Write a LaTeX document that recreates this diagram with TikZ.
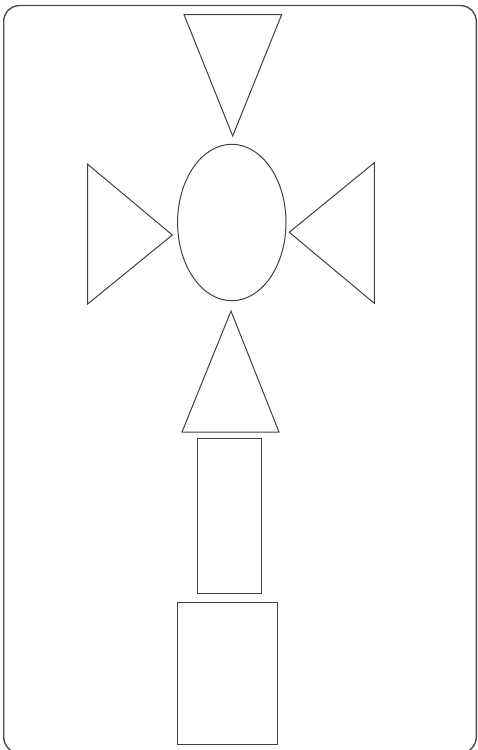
\documentclass[tikz,border=0pt]{standalone}
\begin{document}
\begin{tikzpicture}[x=1pt,y=-1pt,
  shp/.style={draw=black!75,line width=1pt,line join=miter},
  frame/.style={draw=black!70,line width=1.4pt,rounded corners=16pt}]
\useasboundingbox (0,0) rectangle (477,750);
\begin{scope}
\clip (0,0) rectangle (477,750);
\draw[frame] (3.7,5.5) rectangle (476.3,753);
\end{scope}
% top triangle (down)
\draw[shp] (184,14.5) -- (281.7,14.5) -- (232.7,136) -- cycle;
% ellipse
\draw[shp] (231.8,222.5) ellipse [x radius=54.2, y radius=78.2];
% left triangle
\draw[shp] (87.7,164.3) -- (87.7,304) -- (172.3,235) -- cycle;
% right triangle
\draw[shp] (374.3,162.7) -- (374.3,303.3) -- (289.3,232.3) -- cycle;
% bottom triangle (up)
\draw[shp] (231,311) -- (279,432) -- (182,432) -- cycle;
% tall rectangle
\draw[shp] (197,438) rectangle (261,593);
% bottom rectangle
\draw[shp] (177,602) rectangle (277,744);
\end{tikzpicture}
\end{document}
